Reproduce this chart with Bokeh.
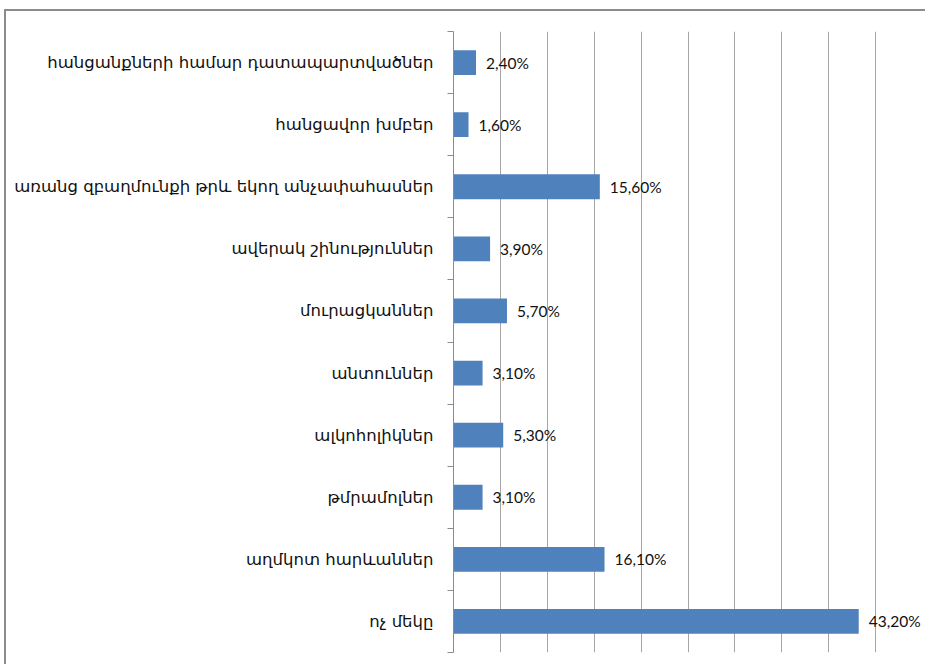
from bokeh.plotting import figure
from bokeh.models import FixedTicker, ColumnDataSource, Range1d
from bokeh.core.properties import value
from bokeh.embed import file_html
from bokeh.resources import INLINE

# Data (bottom to top)
categories = [
    "ոչ մեկը",
    "աղմկոտ հարևաններ",
    "թմրամոլներ",
    "ալկոհոլիկներ",
    "անտուններ",
    "մուրացկաններ",
    "ավերակ շինություններ",
    "առանց զբաղմունքի թրև եկող անչափահասներ",
    "հանցավոր խմբեր",
    "հանցանքների համար դատապարտվածներ",
]
values = [43.2, 16.1, 3.1, 5.3, 3.1, 5.7, 3.9, 15.6, 1.6, 2.4]
value_labels = ["43,20%", "16,10%", "3,10%", "5,30%", "3,10%", "5,70%", "3,90%", "15,60%", "1,60%", "2,40%"]
x_ticks = [0, 5, 10, 15, 20, 25, 30, 35, 40, 45, 50]

pos = list(range(len(categories)))
src = ColumnDataSource(dict(y=pos, v=values, lab=value_labels))

p = figure(width=921, height=655, output_backend="svg", toolbar_location=None,
           x_range=Range1d(0, 50), y_range=Range1d(-0.5, len(categories) - 0.5),
           min_border_left=447, min_border_top=20, min_border_right=5, min_border_bottom=14)
p.styles = {"margin-left": "4px", "margin-top": "9px",
            "border-left": "2px solid #8c8c8c", "border-top": "2px solid #8c8c8c"}
p.outline_line_color = None

p.hbar(y="y", right="v", left=0, height=0.4, source=src, fill_color="#4F81BD", line_color=None)
p.text(x="v", y="y", text="lab", source=src, x_offset=10, text_baseline="middle",
       text_font=value("Lato"), text_font_size="15.5px", text_color="#111111")

p.xaxis.visible = False
p.xaxis.ticker = FixedTicker(ticks=x_ticks)
p.xgrid.ticker = FixedTicker(ticks=x_ticks)
p.xgrid.grid_line_color = "#a6a6a6"
p.xgrid.grid_line_width = 1
p.ygrid.grid_line_color = None

yax = p.yaxis[0]
yax.ticker = FixedTicker(ticks=pos, minor_ticks=[i - 0.5 for i in range(len(categories) + 1)])
yax.major_label_overrides = {i: c for i, c in enumerate(categories)}
yax.major_tick_out = 0
yax.major_tick_in = 0
yax.minor_tick_out = 6
yax.minor_tick_in = 0
yax.minor_tick_line_color = "#8c8c8c"
yax.axis_line_color = "#8c8c8c"
yax.major_label_standoff = 14
yax.major_label_text_font = "DejaVu Sans"
yax.major_label_text_font_size = "16.5px"
yax.major_label_text_color = "#111111"

open("out.html", "w").write(file_html(p, INLINE))
